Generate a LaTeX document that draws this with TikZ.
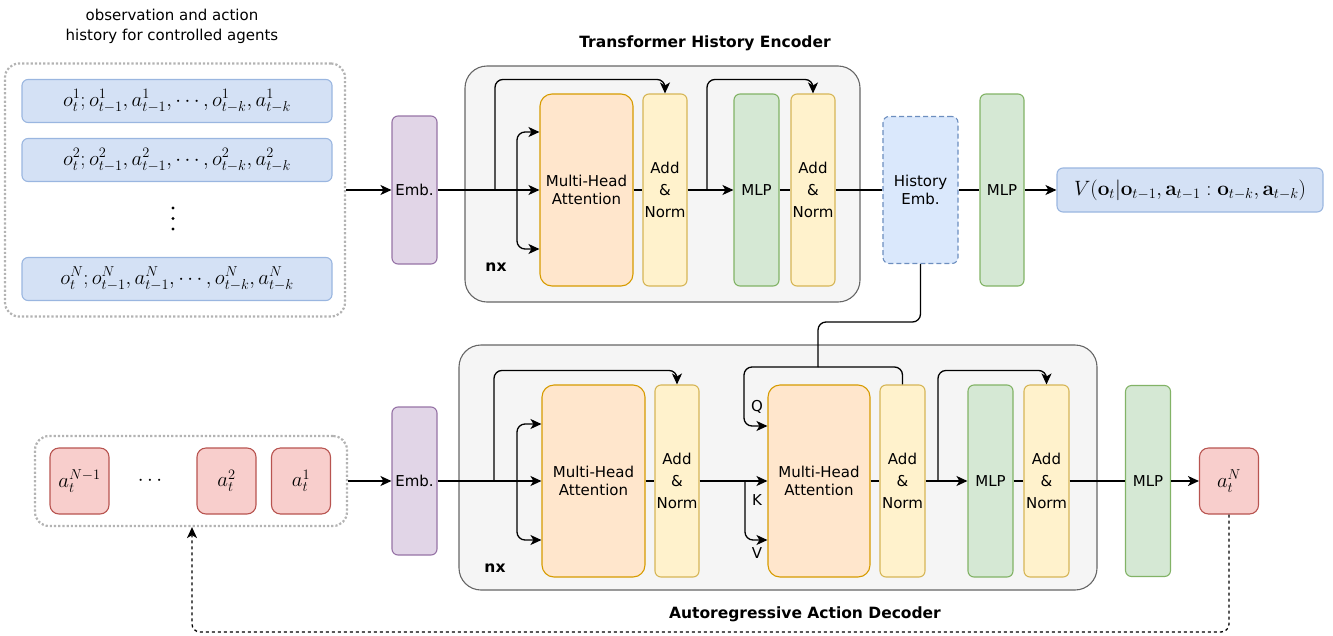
\documentclass[tikz,border=0pt]{standalone}
\usepackage[no-math]{fontspec}
\setmainfont{DejaVu Sans}
\usetikzlibrary{arrows.meta,positioning}
\definecolor{obsfill}{HTML}{D4E1F5}
\definecolor{obsline}{HTML}{9AB6E0}
\definecolor{embfill}{HTML}{E1D5E7}
\definecolor{embline}{HTML}{9673A6}
\definecolor{attfill}{HTML}{FFE6CC}
\definecolor{attline}{HTML}{D79B00}
\definecolor{normfill}{HTML}{FFF2CC}
\definecolor{normline}{HTML}{D6B656}
\definecolor{mlpfill}{HTML}{D5E8D4}
\definecolor{mlpline}{HTML}{82B366}
\definecolor{actfill}{HTML}{F8CECC}
\definecolor{actline}{HTML}{B85450}
\definecolor{histfill}{HTML}{DAE8FC}
\definecolor{histline}{HTML}{6C8EBF}
\definecolor{blockfill}{HTML}{F5F5F5}
\definecolor{blockline}{HTML}{666666}
\definecolor{groupline}{HTML}{B3B3B3}
\begin{document}
\begin{tikzpicture}
        [x=1pt,y=-1pt,
        every node/.style={inner sep=0pt,align=center,font=\fontsize{15}{18}\selectfont},
        box/.style={draw,rounded corners=6pt,line width=1.1pt},
        obs/.style={box,fill=obsfill,draw=obsline,minimum width=310pt,minimum height=43pt,font=\fontsize{21}{24}\selectfont},
        emb/.style={box,fill=embfill,draw=embline,minimum width=45pt,minimum height=148pt},
        att/.style={box,rounded corners=12pt,fill=attfill,draw=attline,minimum height=192pt},
        norm/.style={box,fill=normfill,draw=normline,minimum width=44pt,minimum height=192pt,font=\fontsize{15}{22}\selectfont},
        mlp/.style={box,fill=mlpfill,draw=mlpline,minimum width=45pt,minimum height=192pt},
        act/.style={box,rounded corners=9pt,fill=actfill,draw=actline,minimum width=59pt,minimum height=66pt,font=\fontsize{21}{24}\selectfont},
        block/.style={draw=blockline,fill=blockfill,rounded corners=22pt,line width=1.1pt},
        group/.style={draw=groupline,dotted,line width=2.2pt,rounded corners=14pt},
        lbl/.style={font=\fontsize{15.5}{18}\bfseries\selectfont},
        arr/.style={-{Stealth[length=11pt,width=10pt,inset=3pt]},line width=1.3pt,rounded corners=8pt},
        con/.style={line width=1.3pt,rounded corners=8pt}]
        \useasboundingbox (0,0) rectangle (1333,635);
        %Encoder input
        \node  (ObsTitle) at (172,26)    {observation and action\\[2pt]history for controlled agents};
        \node[group,minimum width=340pt,minimum height=253pt] (Obs) at (175,190) {};
        \node[obs]  (O1) at (177,101)    {$o_t^1; o_{t-1}^1, a_{t-1}^1, \cdots, o_{t-k}^1, a_{t-k}^1$};
        \node[obs]  (O2) at (177,160)    {$o_t^2; o_{t-1}^2, a_{t-1}^2, \cdots, o_{t-k}^2, a_{t-k}^2$};
        \fill (173,208) circle (1.7pt) (173,218.5) circle (1.7pt) (173,229) circle (1.7pt);
        \node[obs]  (ON) at (177,279)    {$o_t^N; o_{t-1}^N, a_{t-1}^N, \cdots, o_{t-k}^N, a_{t-k}^N$};
        \node[emb]  (EmbE) at (414.5,190) {Emb.};

        %Encoder
        \node[block,minimum width=395pt,minimum height=236pt] (Enc) at (662.5,184) {};
        \node[lbl]  (EncTitle) at (705,43) {Transformer History Encoder};
        \node[lbl]  (NxE) at (496,267)    {nx};
        \node[att,minimum width=93pt]  (MHAE) at (586.5,190) {Multi-Head\\Attention};
        \node[norm] (ANE1) at (665,190)  {Add\\\&\\Norm};
        \node[mlp]  (MLPE) at (756.5,190) {MLP};
        \node[norm] (ANE2) at (813,190)  {Add\\\&\\Norm};
        \node[box,dash pattern=on 5pt off 3pt,fill=histfill,draw=histline,minimum width=75pt,minimum height=147pt] (Hist) at (920.5,190) {History\\Emb.};
        \node[mlp,minimum width=44pt]  (MLPV) at (1002,190) {MLP};
        \node[obs,minimum width=266pt,minimum height=44pt,font=\fontsize{22}{24}\selectfont] (Val) at (1190,190)
                {$V(\mathbf{o}_t|\mathbf{o}_{t-1},\mathbf{a}_{t-1}:\mathbf{o}_{t-k},\mathbf{a}_{t-k})$};

        \coordinate (SE1) at (495,190);
        \coordinate (BE) at (517,190);
        \coordinate (SE2) at (707,190);
        \draw[arr] (Obs.east) -- (EmbE.west);
        \draw[arr] (EmbE.east) -- (MHAE.west);
        \draw[arr] (SE1) |- ([yshift=14pt]ANE1.north) -- (ANE1.north);
        \draw[arr] (BE) |- ([yshift=58pt]MHAE.west);
        \draw[arr] (BE) |- ([yshift=-59pt]MHAE.west);
        \draw[con] (MHAE.east) -- (ANE1.west);
        \draw[arr] (ANE1.east) -- (MLPE.west);
        \draw[arr] (SE2) |- ([yshift=14pt]ANE2.north) -- (ANE2.north);
        \draw[con] (MLPE.east) -- (ANE2.west);
        \draw[con] (ANE2.east) -- (Hist.west);
        \draw[con] (Hist.east) -- (MLPV.west);
        \draw[arr] (MLPV.east) -- (Val.west);

        %Decoder input
        \node[group,minimum width=312pt,minimum height=90pt] (Act) at (191,481) {};
        \node[act]  (AN1) at (79.5,481)  {$a_t^{N-1}$};
        \node[font=\fontsize{21}{24}\selectfont]  (ADots) at (150,481) {$\cdots$};
        \node[act]  (A2) at (226.5,481)  {$a_t^2$};
        \node[act]  (A1) at (301,481)    {$a_t^1$};
        \node[emb]  (EmbD) at (414.5,481) {Emb.};

        %Decoder
        \node[block,minimum width=638pt,minimum height=245pt] (Dec) at (778,467.5) {};
        \node[lbl]  (DecTitle) at (805,614) {Autoregressive Action Decoder};
        \node[lbl]  (NxD) at (495,568)    {nx};
        \node[att,minimum width=103pt] (MHAD1) at (593.5,481) {Multi-Head\\Attention};
        \node[norm] (AND1) at (677,481)  {Add\\\&\\Norm};
        \node[att,minimum width=102pt] (MHAD2) at (819,481) {Multi-Head\\Attention};
        \node[norm,minimum width=45pt] (AND2) at (902.5,481) {Add\\\&\\Norm};
        \node[mlp]  (MLPD) at (990.5,481) {MLP};
        \node[norm,minimum width=45pt] (AND3) at (1046.5,481) {Add\\\&\\Norm};
        \node[mlp,minimum height=191pt] (MLPA) at (1148,481) {MLP};
        \node[act]  (AN) at (1229,481)   {$a_t^N$};
        \node  (Q) at (757,407) {Q};
        \node  (K) at (757,500) {K};
        \node  (V) at (757,553) {V};

        \coordinate (SD1) at (494,481);
        \coordinate (BD) at (517,481);
        \coordinate (BV) at (745,481);
        \coordinate (SD3) at (938,481);
        \coordinate (HJ) at (818,367);
        \coordinate (FB) at (192,632);
        \draw[arr] (Act.east) -- (EmbD.west);
        \draw[arr] (EmbD.east) -- (MHAD1.west);
        \draw[arr] (SD1) |- ([yshift=14pt]AND1.north) -- (AND1.north);
        \draw[arr] (BD) |- ([yshift=57pt]MHAD1.west);
        \draw[arr] (BD) |- ([yshift=-59pt]MHAD1.west);
        \draw[con] (MHAD1.east) -- (AND1.west);
        \draw[arr] (AND1.east) -- (MHAD2.west);
        \draw[arr] (BV) |- ([yshift=-59pt]MHAD2.west);
        \draw[con] (Hist.south) |- (818,322) -- (HJ);
        \draw[arr] (HJ) -| (744,400) |- ([yshift=55pt]MHAD2.west);
        \draw[con] (HJ) -| (AND2.north);
        \draw[con] (MHAD2.east) -- (AND2.west);
        \draw[arr] (AND2.east) -- (MLPD.west);
        \draw[arr] (SD3) |- ([yshift=14pt]AND3.north) -- (AND3.north);
        \draw[con] (MLPD.east) -- (AND3.west);
        \draw[con] (AND3.east) -- (MLPA.west);
        \draw[arr] (MLPA.east) -- (AN.west);
        \draw[arr,dashed] (AN.south) |- (FB) -- (FB |- Act.south);
\end{tikzpicture}
\end{document}
